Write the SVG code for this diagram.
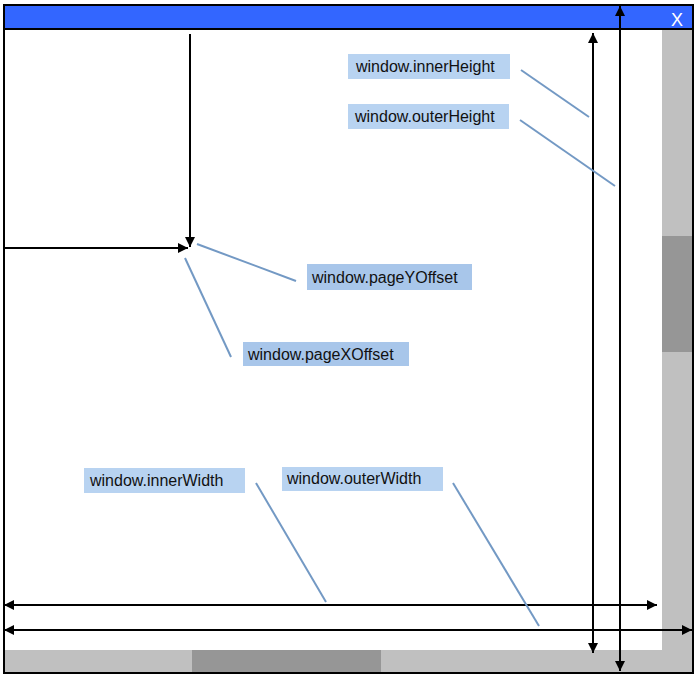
<svg xmlns="http://www.w3.org/2000/svg" width="698" height="679" viewBox="0 0 698 679">
<style>
.lbl{font-family:"Liberation Sans",Arial,sans-serif;font-size:16px;fill:#111}
.box{fill:#B8D3F1}
.box2{fill:#A8C6EA}
.lead{stroke:#7399C4;stroke-width:2;fill:none}
.arr{stroke:#000;stroke-width:2;fill:none}
</style>
<defs>
<marker id="ah" viewBox="0 0 10 10" refX="10" refY="5" markerWidth="5" markerHeight="5" orient="auto-start-reverse" markerUnits="strokeWidth">
<path d="M0,0 L10,5 L0,10 Z" fill="#000"/>
</marker>
</defs>
<g id="window">
<rect x="0" y="0" width="698" height="679" fill="#fff"/>
<rect x="4" y="5" width="689" height="24" fill="#3366FF"/>
<rect x="662" y="29" width="31" height="643" fill="#C0C0C0"/>
<rect x="4" y="650" width="689" height="22" fill="#C0C0C0"/>
<rect x="662" y="236" width="31" height="116" fill="#969696"/>
<rect x="192" y="650" width="189" height="22" fill="#969696"/>
<line x1="4" y1="29" x2="693" y2="29" stroke="#000" stroke-width="2"/>
<rect x="4" y="5" width="689" height="668" fill="none" stroke="#000" stroke-width="2"/>
<text x="671" y="26" font-family="Liberation Sans,Arial,sans-serif" font-size="18" fill="#fff">X</text>
</g>
<g id="connectors">
<line class="arr" x1="190" y1="34" x2="190" y2="247" marker-end="url(#ah)"/>
<line class="arr" x1="4" y1="248" x2="188" y2="248" marker-end="url(#ah)"/>
<line class="arr" x1="593" y1="33" x2="593" y2="653" marker-start="url(#ah)" marker-end="url(#ah)"/>
<line class="arr" x1="620" y1="6" x2="620" y2="671" marker-start="url(#ah)" marker-end="url(#ah)"/>
<line class="arr" x1="4" y1="605" x2="657" y2="605" marker-start="url(#ah)" marker-end="url(#ah)"/>
<line class="arr" x1="4" y1="630" x2="692" y2="630" marker-start="url(#ah)" marker-end="url(#ah)"/>
<line class="lead" x1="521" y1="70" x2="589" y2="117"/>
<line class="lead" x1="520" y1="120" x2="615" y2="186"/>
<line class="lead" x1="197" y1="244" x2="296" y2="281"/>
<line class="lead" x1="185" y1="258" x2="231" y2="357"/>
<line class="lead" x1="256" y1="483" x2="326" y2="602"/>
<line class="lead" x1="453" y1="483" x2="539" y2="626"/>
</g>
<g id="innerHeight">
<rect class="box" x="348" y="54" width="162" height="25"/>
<text class="lbl" x="356" y="72">window.innerHeight</text>
</g>
<g id="outerHeight">
<rect class="box" x="348" y="104" width="161" height="25"/>
<text class="lbl" x="355" y="122">window.outerHeight</text>
</g>
<g id="pageYOffset">
<rect class="box2" x="307" y="264" width="165" height="26"/>
<text class="lbl" x="312" y="283">window.pageYOffset</text>
</g>
<g id="pageXOffset">
<rect class="box2" x="243" y="342" width="166" height="24"/>
<text class="lbl" x="248" y="360">window.pageXOffset</text>
</g>
<g id="innerWidth">
<rect class="box" x="84" y="468" width="161" height="25"/>
<text class="lbl" x="90" y="486">window.innerWidth</text>
</g>
<g id="outerWidth">
<rect class="box" x="282" y="467" width="161" height="24"/>
<text class="lbl" x="287" y="484">window.outerWidth</text>
</g>
</svg>
